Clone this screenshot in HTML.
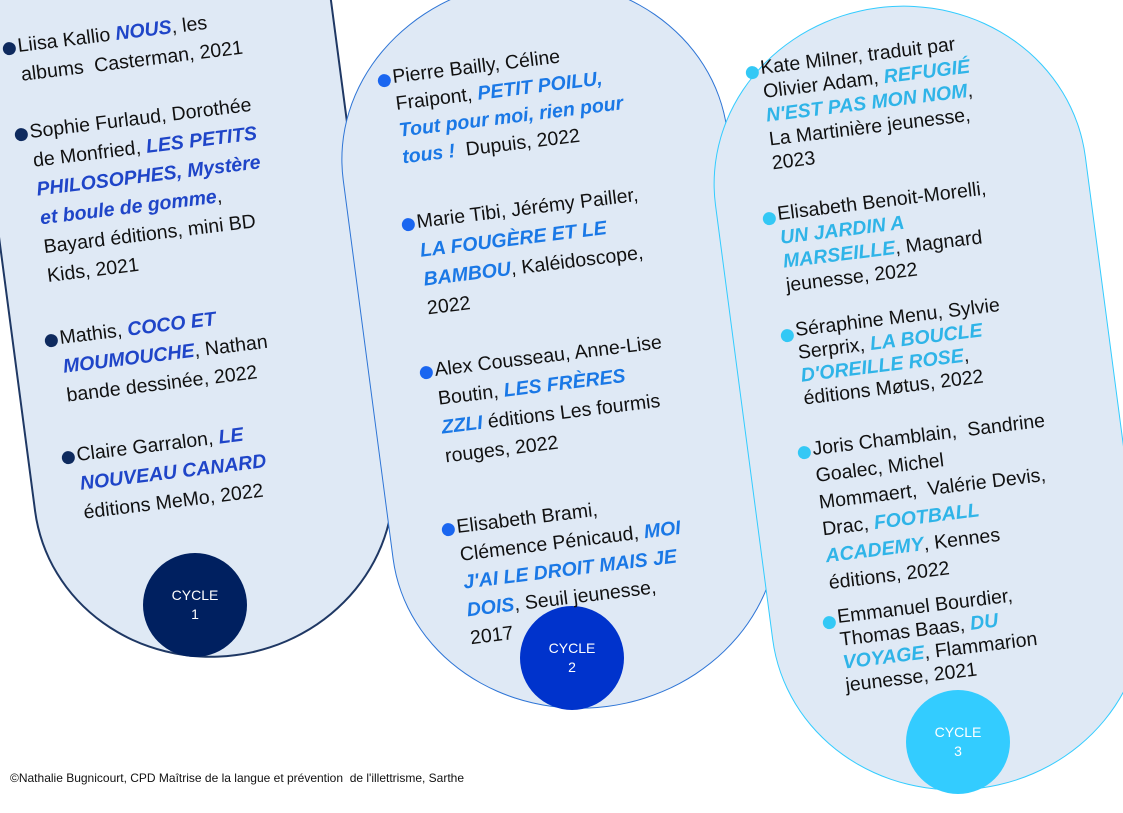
<!DOCTYPE html>
<html><head><meta charset="utf-8"><style>
body{margin:0;width:1123px;height:794px;background:#fff;position:relative;overflow:hidden;font-family:"Liberation Sans",Arial,sans-serif;}
.pill{position:absolute;background:#dfe9f5;box-sizing:border-box;transform:rotate(-7.5deg);}
.circ{position:absolute;width:104px;height:104px;border-radius:50%;color:#fff;font-size:14px;text-align:center;line-height:19px;box-sizing:border-box;padding-top:33px;}
.b{position:absolute;transform:rotate(-7deg);transform-origin:0 0;font-size:19.5px;line-height:29px;white-space:nowrap;color:#111;padding-left:15px;}
.b::before{content:"";position:absolute;left:0;top:9px;width:13px;height:13px;border-radius:50%;background:var(--c);}
.t{font-weight:bold;font-style:italic;color:var(--t);}
.p1{--c:#0e2a5e;--t:#1f45c8}
.p2{--c:#1a66f0;--t:#1a78e6}
.p3{--c:#33c8f5;--t:#2fb4e8}
.foot{position:absolute;left:10px;top:771px;font-size:12px;color:#111;}
</style></head><body>
<div class="pill" style="left:-4px;top:-240px;width:362px;height:900px;border-radius:181px/170px;border:2px solid #1f3864;"></div>
<div class="pill" style="left:366px;top:-22px;width:388px;height:732px;border-radius:194px/175px;border:1.5px solid #2e75d6;"></div>
<div class="pill" style="left:742px;top:4px;width:374px;height:788px;border-radius:187px/175px;border:1.5px solid #33ccff;"></div>

<div class="circ" style="left:143px;top:553px;background:#002060;">CYCLE<br>1</div>
<div class="circ" style="left:520px;top:606px;background:#0033cc;">CYCLE<br>2</div>
<div class="circ" style="left:906px;top:690px;background:#33ccff;">CYCLE<br>3</div>

<div class="b p1" style="left:1px;top:34px;">Liisa Kallio <span class="t">NOUS</span>, les<br>albums&nbsp; Casterman, 2021</div>
<div class="b p1" style="left:13px;top:120px;">Sophie Furlaud, Dorothée<br>de Monfried, <span class="t">LES PETITS<br>PHILOSOPHES, Mystère<br>et boule de gomme</span>,<br>Bayard éditions, mini BD<br>Kids, 2021</div>
<div class="b p1" style="left:43px;top:326px;">Mathis, <span class="t">COCO ET<br>MOUMOUCHE</span>, Nathan<br>bande dessinée, 2022</div>
<div class="b p1" style="left:60px;top:443px;">Claire Garralon, <span class="t">LE<br>NOUVEAU CANARD</span><br>éditions MeMo, 2022</div>

<div class="b p2" style="left:376px;top:66px;line-height:27px;">Pierre Bailly, Céline<br>Fraipont, <span class="t">PETIT POILU,<br>Tout pour moi, rien pour<br>tous !</span>&nbsp; Dupuis, 2022</div>
<div class="b p2" style="left:400px;top:210px;">Marie Tibi, Jérémy Pailler,<br><span class="t">LA FOUGÈRE ET LE<br>BAMBOU</span>, Kaléidoscope,<br>2022</div>
<div class="b p2" style="left:418px;top:358px;">Alex Cousseau, Anne-Lise<br>Boutin, <span class="t">LES FRÈRES<br>ZZLI</span> éditions Les fourmis<br>rouges, 2022</div>
<div class="b p2" style="left:440px;top:515px;line-height:28px;">Elisabeth Brami,<br>Clémence Pénicaud, <span class="t">MOI<br>J'AI LE DROIT MAIS JE<br>DOIS</span>, Seuil jeunesse,<br>2017</div>

<div class="b p3" style="left:744px;top:58px;line-height:24px;">Kate Milner, traduit par<br>Olivier Adam, <span class="t">REFUGIÉ<br>N'EST PAS MON NOM</span>,<br>La Martinière jeunesse,<br>2023</div>
<div class="b p3" style="left:761px;top:204px;line-height:24px;">Elisabeth Benoit-Morelli,<br><span class="t">UN JARDIN A<br>MARSEILLE</span>, Magnard<br>jeunesse, 2022</div>
<div class="b p3" style="left:779px;top:321px;line-height:23px;">Séraphine Menu, Sylvie<br>Serprix, <span class="t">LA BOUCLE<br>D'OREILLE ROSE</span>,<br>éditions Møtus, 2022</div>
<div class="b p3" style="left:796px;top:438px;line-height:27px;">Joris Chamblain,&nbsp; Sandrine<br>Goalec, Michel<br>Mommaert,&nbsp; Valérie Devis,<br>Drac, <span class="t">FOOTBALL<br>ACADEMY</span>, Kennes<br>éditions, 2022</div>
<div class="b p3" style="left:821px;top:608px;line-height:23px;">Emmanuel Bourdier,<br>Thomas Baas, <span class="t">DU<br>VOYAGE</span>, Flammarion<br>jeunesse, 2021</div>

<div class="foot">©Nathalie Bugnicourt, CPD Maîtrise de la langue et prévention&nbsp; de l'illettrisme, Sarthe</div>
</body></html>
